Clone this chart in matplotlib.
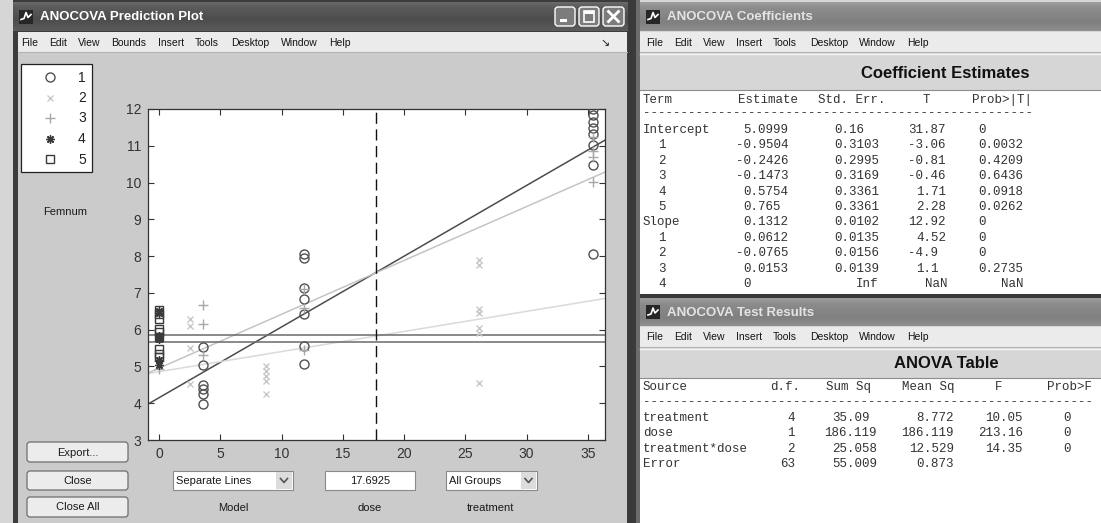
import matplotlib
matplotlib.use("Agg")
import matplotlib.pyplot as plt
from matplotlib.patches import Rectangle, FancyBboxPatch
import numpy as np

plt.rcParams['font.family'] = ['Liberation Sans', 'DejaVu Sans']

# ------------------------------------------------------------------ data
treatments = ['1', '2', '3', '4', '5']

dose_t1 = [3.6, 3.6, 3.6, 3.6, 3.6, 3.6,
           11.8, 11.8, 11.8, 11.8, 11.8, 11.8, 11.8,
           35.4, 35.4, 35.4, 35.4, 35.4, 35.4, 35.4, 35.4]
femnum_t1 = [5.52, 5.04, 4.50, 4.38, 4.25, 3.97,
             8.06, 7.96, 7.14, 6.83, 6.43, 5.55, 5.08,
             12.0, 11.83, 11.66, 11.49, 11.32, 11.03, 10.48, 8.05]

dose_t2 = [2.5, 2.5, 2.5, 2.5,
           8.7, 8.7, 8.7, 8.7, 8.7,
           26.1, 26.1, 26.1, 26.1, 26.1, 26.1, 26.1]
femnum_t2 = [6.3, 6.1, 5.5, 4.52,
             5.0, 4.87, 4.73, 4.6, 4.26,
             7.9, 7.77, 6.55, 6.46, 6.04, 5.9, 4.56]

dose_t3 = [0.0, 0.0, 3.6, 3.6, 3.6, 11.8, 11.8, 11.8, 35.4, 35.4, 35.4, 35.4]
femnum_t3 = [5.15, 4.92, 6.67, 6.15, 5.3, 7.1, 6.6, 5.45, 11.25, 10.85, 10.7, 10.02]

dose_t4 = [0.0, 0.0, 0.0, 0.0, 0.0, 0.0, 0.0]
femnum_t4 = [6.5, 6.45, 5.82, 5.78, 5.75, 5.18, 5.05]

dose_t5 = [0.0, 0.0, 0.0, 0.0, 0.0, 0.0, 0.0, 0.0, 0.0]
femnum_t5 = [6.53, 6.43, 6.3, 6.02, 5.95, 5.8, 5.48, 5.35, 5.26]

dose_value = 17.6925
model_name = 'Separate Lines'
group_choice = 'All Groups'

x_ticks = [0, 5, 10, 15, 20, 25, 30, 35]
y_ticks = [3, 4, 5, 6, 7, 8, 9, 10, 11, 12]

coef_terms = ['Intercept', '1', '2', '3', '4', '5', 'Slope', '1', '2', '3', '4']
coef_estimate = ['5.0999', '-0.9504', '-0.2426', '-0.1473', '0.5754', '0.765',
                 '0.1312', '0.0612', '-0.0765', '0.0153', '0']
coef_stderr = ['0.16', '0.3103', '0.2995', '0.3169', '0.3361', '0.3361',
               '0.0102', '0.0135', '0.0156', '0.0139', 'Inf']
coef_t = ['31.87', '-3.06', '-0.81', '-0.46', '1.71', '2.28',
          '12.92', '4.52', '-4.9', '1.1', 'NaN']
coef_p = ['0', '0.0032', '0.4209', '0.6436', '0.0918', '0.0262',
          '0', '0', '0', '0.2735', 'NaN']

anova_source = ['treatment', 'dose', 'treatment*dose', 'Error']
anova_df = ['4', '1', '2', '63']
anova_ss = ['35.09', '186.119', '25.058', '55.009']
anova_ms = ['8.772', '186.119', '12.529', '0.873']
anova_f = ['10.05', '213.16', '14.35', '']
anova_p = ['0', '0', '0', '']

# --------------------------------------------------------------- styles
marker_styles = [
    dict(marker='o', ms=6.5, mfc='none', mec='#505050', mew=1.0),
    dict(marker='x', ms=4.5, mfc='none', mec='#c8c8c8', mew=1.0),
    dict(marker='+', ms=7, mfc='none', mec='#a8a8a8', mew=1.0),
    dict(marker=(8, 2, 0), ms=6, mfc='none', mec='#3a3a3a', mew=1.0),
    dict(marker='s', ms=5.5, mfc='none', mec='#3a3a3a', mew=1.0),
]
line_colors = ['#4c4c4c', '#dadada', '#c4c4c4', '#6a6a6a', '#6a6a6a']

W, H = 1101, 523
fig = plt.figure(figsize=(W / 100, H / 100), dpi=100)
fig.patch.set_facecolor('#d4d4d4')
bg = fig.add_axes([0, 0, 1, 1])
bg.set_xlim(0, W)
bg.set_ylim(H, 0)
bg.axis('off')


def rect(x0, y0, x1, y1, fc, ec='none', lw=0.0, z=1):
    bg.add_patch(Rectangle((x0, y0), x1 - x0, y1 - y0, facecolor=fc,
                           edgecolor=ec, linewidth=lw, zorder=z))


def grad(x0, y0, x1, y1, stops, z=1):
    t = np.linspace(0, 1, 64)
    vals = np.interp(t, [s[0] for s in stops], [s[1] for s in stops])
    bg.imshow(vals[:, None], extent=(x0, x1, y1, y0), cmap='gray', vmin=0,
              vmax=1, aspect='auto', interpolation='bilinear', zorder=z)


def txt(x, y, s, size=8, color='#1a1a1a', ha='left', va='center',
        weight='normal', family=None, z=6):
    kw = {}
    if family is not None:
        kw['family'] = family
    bg.text(x, y, s, fontsize=size, color=color, ha=ha, va=va,
            fontweight=weight, zorder=z, **kw)


def button(x0, y0, x1, y1, label):
    bg.add_patch(FancyBboxPatch((x0, y0), x1 - x0, y1 - y0,
                                boxstyle='round,pad=0,rounding_size=3',
                                facecolor='#ececec', edgecolor='#6e6e6e',
                                linewidth=0.9, zorder=4))
    txt((x0 + x1) / 2, (y0 + y1) / 2 + 0.5, label, size=8, ha='center')


def app_icon(x0, y0):
    rect(x0, y0, x0 + 14, y0 + 14, '#262626', z=5)
    bg.plot([x0 + 2, x0 + 5, x0 + 7, x0 + 9, x0 + 12],
            [y0 + 10, y0 + 9, y0 + 3, y0 + 8, y0 + 5],
            color='white', lw=1.2, zorder=6)


def title_bar(x0, x1, y0, y1, title, active):
    if active:
        grad(x0, y0, x1, y1, [(0, 0.42), (0.15, 0.36), (0.6, 0.30), (1, 0.36)])
        tcol = 'white'
    else:
        grad(x0, y0, x1, y1, [(0, 0.62), (0.2, 0.55), (0.7, 0.50), (1, 0.56)])
        tcol = '#e4e4e4'
    app_icon(x0 + 6, (y0 + y1) / 2 - 7)
    txt(x0 + 27, (y0 + y1) / 2 + 0.5, title, size=9.5, color=tcol,
        weight='bold')


def menu_bar(x0, x1, y0, y1, items, lefts):
    rect(x0, y0, x1, y1, '#ebebeb', z=2)
    bg.plot([x0, x1], [y1, y1], color='#b4b4b4', lw=0.8, zorder=3)
    for s, lx in zip(items, lefts):
        txt(lx, (y0 + y1) / 2 + 0.5, s, size=7.5, color='#141414')


# ------------------------------------------------------- left window
rect(0, 0, W, H, '#d6d6d6', z=0)
rect(13, 0, 628, H, '#3c3c3c', z=1)
title_bar(13, 628, 2, 31, 'ANOCOVA Prediction Plot', True)

# caption buttons
for bx0, bx1, kind in [(555, 575, 'min'), (579, 599, 'max'), (603, 624, 'close')]:
    bg.add_patch(FancyBboxPatch((bx0, 7), bx1 - bx0, 19,
                                boxstyle='round,pad=0,rounding_size=3',
                                facecolor='#7c7c7c', edgecolor='white',
                                linewidth=1.0, zorder=5))
    cx = (bx0 + bx1) / 2
    if kind == 'min':
        rect(bx0 + 5, 19, bx0 + 12, 21.5, 'white', z=6)
    elif kind == 'max':
        rect(bx0 + 5, 11, bx1 - 5, 22, 'none', ec='white', lw=1.2, z=6)
        rect(bx0 + 5, 11, bx1 - 5, 13.5, 'white', z=6)
    else:
        bg.plot([cx - 5, cx + 5], [11.5, 21.5], color='white', lw=2, zorder=6)
        bg.plot([cx - 5, cx + 5], [21.5, 11.5], color='white', lw=2, zorder=6)

menu_bar(18, 627, 32, 52,
         ['File', 'Edit', 'View', 'Bounds', 'Insert', 'Tools', 'Desktop', 'Window', 'Help'],
         [21, 49, 78, 111, 158, 195, 231, 281, 329])
txt(600, 43, '\u2198', size=8, color='#222', family='DejaVu Sans')

rect(18, 53, 627, H, '#cbcbcb', z=2)

# legend of treatments
rect(21, 64, 92, 172, 'white', ec='#222222', lw=0.9, z=4)
for i, (lab, st) in enumerate(zip(treatments, marker_styles)):
    yy = 77 + 20.5 * i
    bg.plot([50], [yy], linestyle='none', zorder=5, **st)
    txt(82, yy + 0.5, lab, size=10, ha='center', color='#222')

txt(65, 212, 'Femnum', size=8, ha='center')

# control buttons
button(27, 442, 128, 462, 'Export...')
button(27, 471, 128, 490, 'Close')
button(27, 497, 128, 517, 'Close All')

# model / dose / treatment controls
rect(173, 471, 293, 490, 'white', ec='#8a8a8a', lw=0.8, z=4)
txt(176, 481, model_name, size=8)
rect(276, 472, 292, 489, '#dcdcdc', z=5)
bg.plot([280.5, 284, 287.5], [478.5, 482.5, 478.5], color='#555', lw=1.2, zorder=6)

rect(325, 471, 415, 490, 'white', ec='#8a8a8a', lw=0.8, z=4)
txt(370, 481, f'{dose_value:g}', size=8, ha='center')

rect(446, 471, 537, 490, 'white', ec='#8a8a8a', lw=0.8, z=4)
txt(449, 481, group_choice, size=8)
rect(521, 472, 536, 489, '#dcdcdc', z=5)
bg.plot([525, 528.5, 532], [478.5, 482.5, 478.5], color='#555', lw=1.2, zorder=6)

txt(233, 508, 'Model', size=8, ha='center')
txt(370, 508, 'dose', size=8, ha='center')
txt(490, 508, 'treatment', size=8, ha='center')

# ------------------------------------------------------ right windows
rect(628, 0, 640, H, '#3a3a3a', z=3)
rect(636, 0, 640, H, '#6c6c6c', z=3)

# coefficients window
title_bar(640, W, 2, 31, 'ANOCOVA Coefficients', False)
right_menu = ['File', 'Edit', 'View', 'Insert', 'Tools', 'Desktop', 'Window', 'Help']
right_lefts = [646, 674, 703, 736, 773, 810, 859, 907]
menu_bar(640, W, 32, 52, right_menu, right_lefts)
rect(640, 53, W, 90, '#d6d6d6', z=2)
bg.plot([640, W], [54, 54], color='#f4f4f4', lw=1, zorder=3)
txt(945, 73, 'Coefficient Estimates', size=12, weight='bold', ha='center', color='#111')
rect(640, 90, W, 294, 'white', z=2)
bg.plot([640, W], [90, 90], color='#8c8c8c', lw=0.8, zorder=3)

mono = 'Liberation Mono'
cw = 7.5
tcol = '#333333'


def mtxt(x, y, s, ha='left'):
    txt(x, y, s, size=9, color=tcol, ha=ha, family=mono)


def dec_cell(xdec, y, s, xright):
    if s == '':
        return
    if s in ('Inf', 'NaN'):
        mtxt(xright, y, s, ha='right')
        return
    idx = s.index('.') if '.' in s else len(s)
    mtxt(xdec - idx * cw, y, s)


mtxt(643, 100, 'Term')
mtxt(738, 100, 'Estimate')
mtxt(818, 100, 'Std. Err.')
mtxt(923, 100, 'T')
mtxt(972, 100, 'Prob>|T|')
mtxt(643, 113, '-' * 52)
for i, term in enumerate(coef_terms):
    yy = 130 + 15.4 * i
    mtxt(643 if term in ('Intercept', 'Slope') else 658, yy, term)
    dec_cell(751, yy, coef_estimate[i], 788)
    dec_cell(841.5, yy, coef_stderr[i], 878.5)
    dec_cell(923.5, yy, coef_t[i], 947)
    dec_cell(986, yy, coef_p[i], 1023)

# test results window
rect(640, 294, W, 298, '#3a3a3a', z=3)
title_bar(640, W, 298, 326, 'ANOCOVA Test Results', False)
menu_bar(640, W, 327, 347, right_menu, right_lefts)
rect(640, 348, W, 378, '#d6d6d6', z=2)
bg.plot([640, W], [349, 349], color='#f4f4f4', lw=1, zorder=3)
txt(946, 363, 'ANOVA Table', size=12, weight='bold', ha='center', color='#111')
rect(640, 378, W, H, 'white', z=2)
bg.plot([640, W], [378, 378], color='#8c8c8c', lw=0.8, zorder=3)

mtxt(643, 387, 'Source')
mtxt(770, 387, 'd.f.')
mtxt(826, 387, 'Sum Sq')
mtxt(902, 387, 'Mean Sq')
mtxt(995, 387, 'F')
mtxt(1047, 387, 'Prob>F')
mtxt(643, 402, '-' * 60)
for i, src in enumerate(anova_source):
    yy = 418 + 15.4 * i
    mtxt(643, yy, src)
    mtxt(795, yy, anova_df[i], ha='right')
    dec_cell(847, yy, anova_ss[i], 878)
    dec_cell(924, yy, anova_ms[i], 953)
    dec_cell(1000.5, yy, anova_f[i], 1023)
    dec_cell(1071, yy, anova_p[i], 1071)

bg.set_xlim(0, W)
bg.set_ylim(H, 0)

# ------------------------------------------------------ prediction plot
ax = fig.add_axes([148 / W, 1 - 440 / H, 457 / W, 331 / H])
ax.set_facecolor('white')
ax.set_zorder(10)

doses = [dose_t1, dose_t2, dose_t3, dose_t4, dose_t5]
femnums = [femnum_t1, femnum_t2, femnum_t3, femnum_t4, femnum_t5]
for d, f, st in zip(doses, femnums, marker_styles):
    ax.plot(d, f, linestyle='none', zorder=3, **st)

ax.set_xlim(-0.9, 36.4)
ax.set_ylim(3, 12)

# fitted separate lines from the coefficient estimates
b0 = float(coef_estimate[0])
s0 = float(coef_estimate[6])
intercepts = [b0 + float(v) for v in coef_estimate[1:6]]
# treatments 4 and 5 were only given dose 0, so their lines stay flat
slopes = [s0 + float(v) for v in coef_estimate[7:10]] + [0.0, 0.0]
xs = np.array([-0.9, 36.4])
for a, b, c in zip(intercepts, slopes, line_colors):
    ax.plot(xs, a + b * xs, color=c, lw=1.1, zorder=2)

ax.axvline(dose_value, color='#111111', lw=1.0, ls=(0, (8, 4)), zorder=4)

ax.set_xticks(x_ticks)
ax.set_yticks(y_ticks)
ax.tick_params(direction='in', top=True, right=True, length=4, width=0.8,
               labelsize=10, colors='#333333', pad=5)
for sp in ax.spines.values():
    sp.set_color('#333333')
    sp.set_linewidth(0.9)

fig.savefig('out.png', dpi=100)
